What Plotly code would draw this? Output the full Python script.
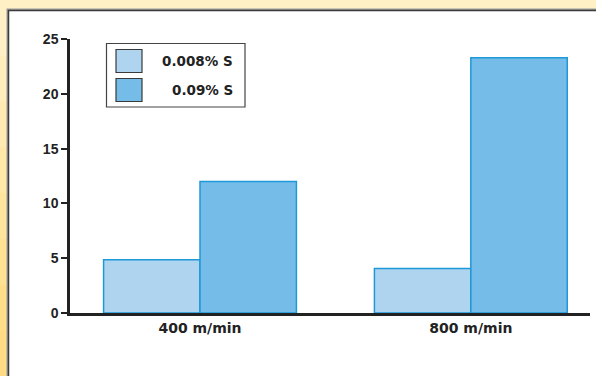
import plotly.graph_objects as go

categories = ["400 m/min", "800 m/min"]
series_names = ["0.008% S", "0.09% S"]
low_s = [4.85, 4.05]
high_s = [12.0, 23.3]
fill_colors = ["#AED4F0", "#75BDE8"]
y_ticks = [0, 5, 10, 15, 20, 25]

W, H = 596, 376
L, R, T, B = 70, 6, 39, 63
PW, PH = W - L - R, H - T - B


def px(x):
    return (x - L) / PW


def py(y):
    return (H - B - y) / PH


fig = go.Figure()
for name, vals, col in zip(series_names, [low_s, high_s], fill_colors):
    fig.add_trace(go.Bar(
        x=categories, y=vals, name=name,
        marker=dict(color=col, line=dict(color="#1E98D8", width=1.5)),
        showlegend=False,
    ))

shapes = []
# left yellow stripe gradient
bands = ["#FFF0C6", "#FFEDBC", "#FFEAB2", "#FFE7A8", "#FFE49E", "#FFE194", "#FFDE8A", "#FFDC84"]
n = len(bands)
for i, c in enumerate(bands):
    shapes.append(dict(type="rect", xref="paper", yref="paper",
                       x0=px(-2), x1=px(8), y0=py(10 + (H - 10) * (i + 1) / n + 1), y1=py(10 + (H - 10) * i / n),
                       fillcolor=c, line=dict(width=0), layer="below"))
# panel shadow + panel
shapes.append(dict(type="rect", xref="paper", yref="paper",
                   x0=px(6.5), x1=px(610), y0=py(390), y1=py(8.5),
                   fillcolor="#9A9A9A", line=dict(width=0), layer="below"))
shapes.append(dict(type="rect", xref="paper", yref="paper",
                   x0=px(8.5), x1=px(610), y0=py(390), y1=py(10.5),
                   fillcolor="white", line=dict(color="#3A3A3A", width=1.5), layer="below"))

# custom legend
shapes.append(dict(type="rect", xref="paper", yref="paper",
                   x0=px(106.5), x1=px(245), y0=py(107), y1=py(43.5),
                   fillcolor="white", line=dict(color="#444444", width=1.2), layer="above"))
annotations = []
sw_y = [(49.5, 72.5), (78.5, 101.5)]
for (y0, y1), name, col in zip(sw_y, series_names, fill_colors):
    shapes.append(dict(type="rect", xref="paper", yref="paper",
                       x0=px(116), x1=px(142), y0=py(y1), y1=py(y0),
                       fillcolor=col, line=dict(color="#3A3A3A", width=1.2), layer="above"))
    annotations.append(dict(xref="paper", yref="paper", x=px(235), y=py((y0 + y1) / 2),
                            text=name, showarrow=False, xanchor="right", yanchor="middle",
                            font=dict(family="DejaVu Sans, sans-serif", size=13.5,
                                      color="#222222", weight="bold")))

fig.update_layout(
    width=W, height=H,
    margin=dict(l=L, r=R, t=T, b=B, pad=0),
    paper_bgcolor="#FFF0C6",
    plot_bgcolor="rgba(0,0,0,0)",
    barmode="group", bargap=0.288, bargroupgap=0,
    shapes=shapes, annotations=annotations,
    showlegend=False,
    font=dict(family="Liberation Sans, Arial, sans-serif", color="#222222"),
)
fig.update_xaxes(
    type="category", range=[-0.48, 1.44],
    showline=True, linecolor="#222222", linewidth=3,
    ticks="", showgrid=False, zeroline=False,
    tickfont=dict(family="DejaVu Sans, sans-serif", size=14, weight="bold", color="#222222"),
    ticklabelstandoff=0,
)
fig.update_yaxes(
    range=[0, 25], tickvals=y_ticks, ticktext=[str(v) for v in y_ticks],
    showline=True, linecolor="#222222", linewidth=2.5,
    ticks="outside", ticklen=6, tickwidth=2, tickcolor="#222222",
    showgrid=False, zeroline=False,
    tickfont=dict(size=14, weight="bold", color="#222222"),
    ticklabelstandoff=0,
)

fig.write_html(
    "out.html",
    config={"displayModeBar": False},
    post_script="document.body.style.margin='0';document.body.style.overflow='hidden';",
)
